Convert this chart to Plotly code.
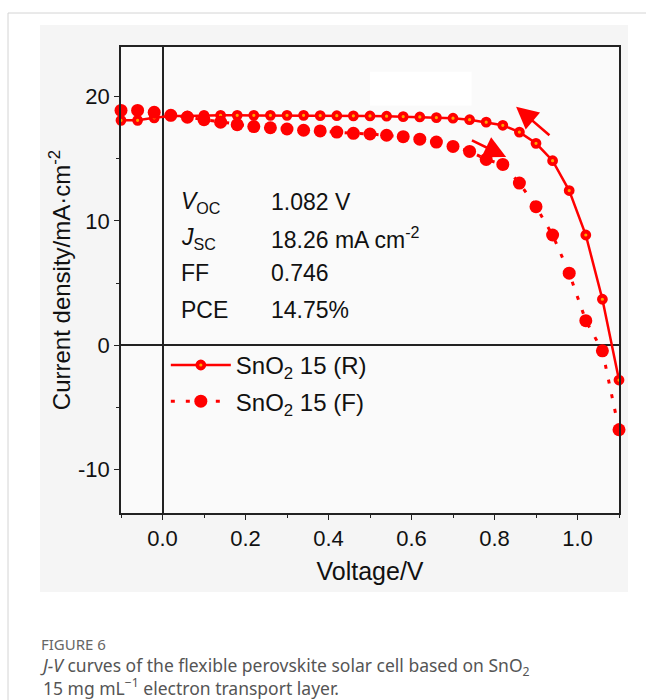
import plotly.graph_objects as go

# ---------------- data ----------------
voltage = [-0.10, -0.06, -0.02, 0.02, 0.06, 0.10, 0.14, 0.18, 0.22, 0.26,
           0.30, 0.34, 0.38, 0.42, 0.46, 0.50, 0.54, 0.58, 0.62, 0.66,
           0.70, 0.74, 0.78, 0.82, 0.86, 0.90, 0.94, 0.98, 1.02, 1.06, 1.10]

j_reverse = [18.10, 18.10, 18.30, 18.45, 18.45, 18.50, 18.50, 18.50, 18.50, 18.50,
             18.50, 18.50, 18.48, 18.47, 18.46, 18.45, 18.43, 18.40, 18.37, 18.32,
             18.27, 18.15, 17.95, 17.70, 17.15, 16.25, 14.85, 12.45, 8.87, 3.70, -2.80]

j_forward = [18.90, 18.90, 18.75, 18.50, 18.35, 18.15, 17.95, 17.75, 17.60, 17.50,
             17.40, 17.30, 17.25, 17.15, 17.05, 17.00, 16.90, 16.78, 16.58, 16.35,
             16.00, 15.60, 14.95, 14.55, 13.05, 11.15, 8.87, 5.80, 1.98, -0.45, -6.80]

series_names = ["SnO<sub>2</sub> 15 (R)", "SnO<sub>2</sub> 15 (F)"]

param_labels = ["<i>V</i><sub>OC</sub>", "<i>J</i><sub>SC</sub>", "FF", "PCE"]
param_values = ["1.082 V", "18.26 mA cm<sup>-2</sup>", "0.746", "14.75%"]

x_tickvals = [0.0, 0.2, 0.4, 0.6, 0.8, 1.0]
x_ticktext = ["0.0", "0.2", "0.4", "0.6", "0.8", "1.0"]
y_tickvals = [-10, 0, 10, 20]
y_ticktext = ["-10", "0", "10", "20"]

caption_title = "FIGURE 6"
caption_text = ("<i>J-V</i> curves of the flexible perovskite solar cell based on SnO<sub>2</sub>"
                "<br>15 mg mL<sup>\u22121</sup> electron transport layer.")

RED = "#ff0000"
ORANGE = "#ffa500"
FONT = "Liberation Sans, Arial, sans-serif"
CAPFONT = "Noto Sans, sans-serif"

fig = go.Figure()

fig.add_trace(go.Scatter(
    x=voltage, y=j_reverse, name=series_names[0], mode="lines+markers",
    line=dict(color=RED, width=2.5),
    marker=dict(symbol="circle", size=7, color=ORANGE, line=dict(color=RED, width=3.8)),
    cliponaxis=False, legendgroup="r",
))
fig.add_trace(go.Scatter(
    x=voltage, y=j_forward, name=series_names[1], mode="lines+markers",
    line=dict(color=RED, width=3, dash="4px,11px"),
    marker=dict(symbol="circle", size=13, color=RED, line=dict(width=0)),
    cliponaxis=False, legendgroup="f",
))

# parameter table
row_y = [11.5, 8.6, 5.8, 2.85]
annotations = []
for lab, val, yy in zip(param_labels, param_values, row_y):
    annotations.append(dict(x=0.04, y=yy, xref="x", yref="y", text=lab, showarrow=False,
                            xanchor="left", yanchor="middle",
                            font=dict(family=FONT, size=23, color="#111")))
    annotations.append(dict(x=0.257, y=yy, xref="x", yref="y", text=val, showarrow=False,
                            xanchor="left", yanchor="middle",
                            font=dict(family=FONT, size=23, color="#111")))

# scan direction arrows (head, tail)
arrows = [((0.852, 19.2), (0.936, 16.8)), ((0.828, 15.15), (0.742, 16.55))]
for (hx, hy), (tx, ty) in arrows:
    annotations.append(dict(x=hx, y=hy, ax=tx, ay=ty, xref="x", yref="y", axref="x", ayref="y",
                            text="", showarrow=True, arrowhead=2, arrowsize=1.7,
                            arrowwidth=2.6, arrowcolor=RED, standoff=0, startstandoff=0))

W, H = 646, 700
ML, MR, MT, MB = 121, 27, 47, 187
PW, PH = W - ML - MR, H - MT - MB

def px2paper_x(px):
    return (px - ML) / PW

def px2paper_y(py):
    return (H - MB - py) / PH

# caption
annotations.append(dict(x=px2paper_x(40), y=px2paper_y(644), xref="paper", yref="paper",
                        text=caption_title, showarrow=False, xanchor="left", yanchor="middle",
                        borderpad=0, font=dict(family=CAPFONT, size=15, color="#666666")))
annotations.append(dict(x=px2paper_x(39), y=px2paper_y(676), xref="paper", yref="paper",
                        text=caption_text, showarrow=False, xanchor="left", yanchor="middle",
                        align="left", borderpad=0,
                        font=dict(family=CAPFONT, size=17.5, color="#555555")))

shapes = [
    # page frame lines
    dict(type="line", xref="paper", yref="paper", x0=px2paper_x(8), x1=px2paper_x(8),
         y0=px2paper_y(13), y1=px2paper_y(700), line=dict(color="#d4d4d4", width=1), layer="below"),
    dict(type="line", xref="paper", yref="paper", x0=px2paper_x(8), x1=px2paper_x(646),
         y0=px2paper_y(13), y1=px2paper_y(13), line=dict(color="#d4d4d4", width=1), layer="below"),
    # figure image background
    dict(type="rect", xref="paper", yref="paper", x0=px2paper_x(40), x1=px2paper_x(628),
         y0=px2paper_y(25), y1=px2paper_y(592), fillcolor="#f5f5f5", line=dict(width=0), layer="below"),
    # plot area
    dict(type="rect", xref="paper", yref="paper", x0=0, x1=1, y0=0, y1=1,
         fillcolor="#fafafa", line=dict(width=0), layer="below"),
    # white patch
    dict(type="rect", xref="x", yref="y", x0=0.5, x1=0.745, y0=19.3, y1=22.0,
         fillcolor="#ffffff", line=dict(width=0), layer="below"),
]

fig.update_layout(
    width=W, height=H,
    margin=dict(l=ML, r=MR, t=MT, b=MB, autoexpand=False),
    paper_bgcolor="#ffffff", plot_bgcolor="#fafafa",
    font=dict(family=FONT, color="#111"),
    showlegend=True,
    legend=dict(x=0.09, y=0.365, xanchor="left", yanchor="top", bgcolor="rgba(0,0,0,0)",
                font=dict(family=FONT, size=24, color="#111"), itemwidth=60,
                tracegroupgap=2),
    annotations=annotations,
    shapes=shapes,
    xaxis=dict(range=[-0.1, 1.1], tickvals=x_tickvals, ticktext=x_ticktext,
               showline=True, linecolor="#222", linewidth=1.5, mirror=True,
               ticks="outside", ticklen=5, tickwidth=1.2, tickcolor="#222",
               minor=dict(dtick=0.1, tick0=0, ticks="outside", ticklen=3, tickcolor="#222"),
               showgrid=False, zeroline=True, zerolinecolor="#222", zerolinewidth=1.5,
               tickfont=dict(family=FONT, size=22, color="#111"),
               title=dict(text="Voltage/V", font=dict(family=FONT, size=25, color="#111"), standoff=12),
               automargin=False),
    yaxis=dict(range=[-13.5, 24], tickvals=y_tickvals, ticktext=y_ticktext,
               showline=True, linecolor="#222", linewidth=1.5, mirror=True,
               ticks="outside", ticklen=5, tickwidth=1.2, tickcolor="#222",
               minor=dict(dtick=5, tick0=0, ticks="outside", ticklen=3, tickcolor="#222"),
               showgrid=False, zeroline=True, zerolinecolor="#222", zerolinewidth=1.5,
               tickfont=dict(family=FONT, size=22, color="#111"),
               title=dict(text="Current density/mA\u00b7cm<sup>-2</sup>",
                          font=dict(family=FONT, size=24, color="#111"), standoff=1),
               automargin=False),
)

fig.write_html("out.html")
